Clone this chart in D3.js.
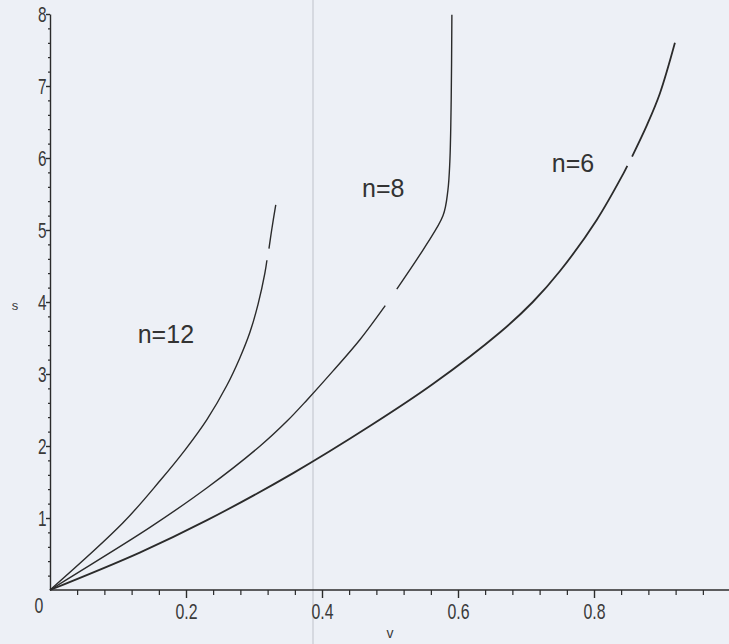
<!DOCTYPE html>
<html>
<head>
<meta charset="utf-8">
<script src="https://cdn.jsdelivr.net/npm/d3@7"></script>
<style>
  body { margin: 0; background: #edf0f6; }
  svg { display: block; }
</style>
</head>
<body>
<svg id="chart" width="729" height="644"></svg>
<script>
// curves, [v, s]; null marks a gap in the printed line
const n12 = [[0, 0], [0.107, 0.93], [0.162, 1.52], [0.199, 1.95], [0.231, 2.37], [0.260, 2.84],
  [0.279, 3.22], [0.294, 3.58], [0.306, 3.97], [0.316, 4.40], [0.319, 4.58], null,
  [0.322, 4.74], [0.326, 5.0], [0.332, 5.35]];
const n8 = [[0, 0], [0.034, 0.20], [0.147, 0.87], [0.231, 1.42], [0.309, 2.0], [0.349, 2.35],
  [0.378, 2.64], [0.416, 3.04], [0.456, 3.48], [0.493, 3.95], null, [0.510, 4.18],
  [0.551, 4.76], [0.578, 5.20], [0.585, 5.54], [0.588, 5.95], [0.590, 6.81], [0.591, 7.99]];
const n6 = [[0, 0], [0.132, 0.52], [0.231, 0.97], [0.357, 1.62], [0.471, 2.28], [0.563, 2.86],
  [0.662, 3.58], [0.710, 4.0], [0.750, 4.43], [0.804, 5.14], [0.843, 5.78], [0.849, 5.89],
  null, [0.856, 6.02], [0.878, 6.46], [0.897, 6.90], [0.919, 7.60]];

const curveNames = ['n=12', 'n=8', 'n=6'];
const curveLabelAt = [[0.129, 3.43], [0.459, 5.46], [0.738, 5.8]];

const xMajor = [0.2, 0.4, 0.6, 0.8];
const yMajor = [1, 2, 3, 4, 5, 6, 7, 8];

const svg = d3.select('#chart');
const x = d3.scaleLinear().domain([0, 1]).range([50, 730]);
const y = d3.scaleLinear().domain([0, 8]).range([590, 14]);

// faint fold in the paper
svg.append('line')
  .attr('x1', 313).attr('x2', 313).attr('y1', 0).attr('y2', 644)
  .style('stroke', '#d6d9e0').style('stroke-width', 2);

const ink = '#2b2b2b';

// x axis: minor ticks then major ticks with labels
const xMinor = d3.range(0.04, 1.0, 0.04).filter(v => Math.abs(v * 5 - Math.round(v * 5)) > 1e-6);
svg.append('g')
  .attr('transform', 'translate(0,590)')
  .call(d3.axisBottom(x).tickValues(xMinor).tickSize(5).tickFormat(''))
  .call(g => g.select('.domain').remove());
const gx = svg.append('g')
  .attr('transform', 'translate(0,590)')
  .call(d3.axisBottom(x).tickValues(xMajor).tickSize(8).tickSizeOuter(0).tickFormat(d3.format('.1f')));
gx.select('.domain').attr('d', 'M50,0H729');

// y axis
const yMinor = d3.range(0.2, 8.0, 0.2).filter(v => Math.abs(v - Math.round(v)) > 1e-6);
svg.append('g')
  .attr('transform', 'translate(50,0)')
  .call(d3.axisLeft(y).tickValues(yMinor).tickSize(2).tickFormat(''))
  .call(g => g.select('.domain').remove());
const gy = svg.append('g')
  .attr('transform', 'translate(50,0)')
  .call(d3.axisLeft(y).tickValues(yMajor).tickSize(4).tickSizeOuter(0).tickFormat(d3.format('d')));

[gx, gy].forEach(g => {
  g.selectAll('path, line').style('stroke', ink).style('stroke-width', 1.4);
  g.selectAll('text')
    .style('font-family', '"Liberation Sans", Arial, sans-serif')
    .style('font-size', '22px')
    .style('fill', '#3a3a3a');
});
gx.selectAll('text').attr('y', 13).attr('transform', 'scale(0.72,1)');
gy.selectAll('text').attr('x', -5).attr('dy', '0.36em').attr('transform', 'scale(0.7,1)');

// origin label
svg.append('text')
  .attr('x', 39).attr('y', 613)
  .attr('text-anchor', 'middle')
  .attr('transform', 'translate(39,0) scale(0.72,1) translate(-39,0)')
  .style('font-family', '"Liberation Sans", Arial, sans-serif')
  .style('font-size', '22px').style('fill', '#3a3a3a')
  .text('0');

// axis titles
svg.append('text')
  .attr('x', 15).attr('y', 310).attr('text-anchor', 'middle')
  .style('font-family', '"Liberation Sans", Arial, sans-serif')
  .style('font-size', '13px').style('fill', '#3a3a3a')
  .text('s');
svg.append('text')
  .attr('x', 390).attr('y', 638).attr('text-anchor', 'middle')
  .style('font-family', '"Liberation Sans", Arial, sans-serif')
  .style('font-size', '14px').style('fill', '#3a3a3a')
  .text('v');

// curves
const line = d3.line()
  .defined(d => d !== null)
  .x(d => x(d[0]))
  .y(d => y(d[1]))
  .curve(d3.curveCatmullRom.alpha(0.5));

svg.append('g')
  .selectAll('path')
  .data([n12, n8, n6])
  .join('path')
  .attr('d', line)
  .style('fill', 'none')
  .style('stroke', ink)
  .style('stroke-width', (d, i) => (i === 2 ? 1.8 : 1.4));

svg.append('g')
  .selectAll('text')
  .data(curveNames)
  .join('text')
  .attr('x', (d, i) => x(curveLabelAt[i][0]))
  .attr('y', (d, i) => y(curveLabelAt[i][1]))
  .style('font-family', '"Liberation Sans", Arial, sans-serif')
  .style('font-size', '25px')
  .style('fill', '#333')
  .text(d => d);
</script>
</body>
</html>
